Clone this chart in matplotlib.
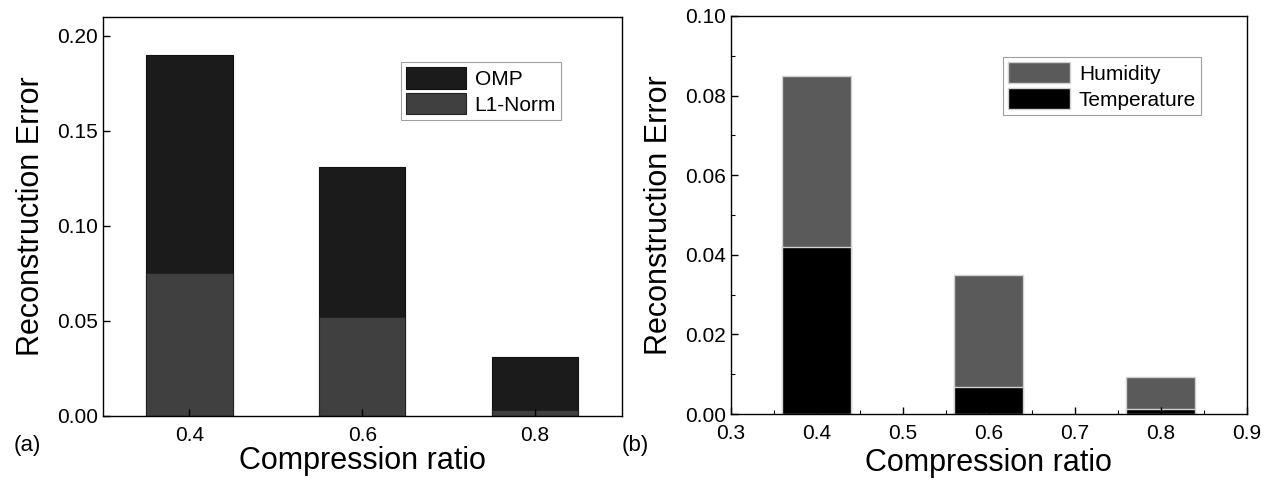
import matplotlib
matplotlib.use("Agg")
import matplotlib.pyplot as plt

plt.rcParams['font.family'] = ['Liberation Sans', 'DejaVu Sans']

# panel (a): OMP vs L1-Norm
ratios_a = [0.4, 0.6, 0.8]
omp = [0.190, 0.131, 0.031]
l1_norm = [0.075, 0.052, 0.003]

# panel (b): humidity vs temperature
ratios_b = [0.4, 0.6, 0.8]
humidity = [0.085, 0.035, 0.0092]
temperature = [0.042, 0.0069, 0.0013]

fig = plt.figure(figsize=(12.71, 4.82), dpi=100)
ax1 = fig.add_axes([0.081, 0.137, 0.408, 0.828])
ax2 = fig.add_axes([0.575, 0.141, 0.406, 0.826])

# (a)
ax1.bar(ratios_a, omp, width=0.1, color='#1b1b1b', edgecolor='#111111', linewidth=0.8, label='OMP')
ax1.bar(ratios_a, l1_norm, width=0.1, color='#404040', edgecolor='#222222', linewidth=0.8, label='L1-Norm')
ax1.set_xlim(0.3, 0.9)
ax1.set_ylim(0, 0.21)
ax1.set_xticks([0.4, 0.6, 0.8])
ax1.set_yticks([0.0, 0.05, 0.10, 0.15, 0.20])
ax1.set_yticklabels(['0.00', '0.05', '0.10', '0.15', '0.20'])
ax1.set_xlabel("Compression ratio", fontsize=22, labelpad=1)
ax1.set_ylabel("Reconstruction Error", fontsize=22, labelpad=8)
leg1 = ax1.legend(loc='upper left', bbox_to_anchor=(0.574, 0.887), fontsize=15,
                  fancybox=False, edgecolor='#888888', handlelength=2.9, handleheight=1.2,
                  handletextpad=0.4, labelspacing=0.2, borderpad=0.25, borderaxespad=0)
leg1.get_frame().set_linewidth(0.8)

# (b)
ax2.bar(ratios_b, humidity, width=0.08, color='#5a5a5a', edgecolor='#d0d0d0', linewidth=1, label='Humidity')
ax2.bar(ratios_b, temperature, width=0.08, color='#000000', edgecolor='#d0d0d0', linewidth=1, label='Temperature')
ax2.set_xlim(0.3, 0.9)
ax2.set_ylim(0, 0.10)
ax2.set_xticks([0.3, 0.4, 0.5, 0.6, 0.7, 0.8, 0.9])
ax2.set_xticks([0.35, 0.45, 0.55, 0.65, 0.75, 0.85], minor=True)
ax2.set_yticks([0.0, 0.02, 0.04, 0.06, 0.08, 0.10])
ax2.set_yticks([0.01, 0.03, 0.05, 0.07, 0.09], minor=True)
ax2.set_yticklabels(['0.00', '0.02', '0.04', '0.06', '0.08', '0.10'])
ax2.set_xlabel("Compression ratio", fontsize=22, labelpad=4)
ax2.set_ylabel("Reconstruction Error", fontsize=22, labelpad=8)
leg2 = ax2.legend(loc='upper left', bbox_to_anchor=(0.527, 0.897), fontsize=15,
                  fancybox=False, edgecolor='#888888', handlelength=3.0, handleheight=1.2,
                  handletextpad=0.4, labelspacing=0.2, borderpad=0.25, borderaxespad=0)
leg2.get_frame().set_linewidth(0.8)

for ax in (ax1, ax2):
    ax.tick_params(axis='both', which='major', direction='in', length=5, width=1, labelsize=15)
    ax.tick_params(axis='x', which='major', pad=7)
    ax.tick_params(axis='both', which='minor', direction='in', length=3, width=0.8)
    for s in ax.spines.values():
        s.set_linewidth(1.0)

fig.text(0.011, 0.065, "(a)", fontsize=16)
fig.text(0.489, 0.065, "(b)", fontsize=16)

fig.savefig("out.png", dpi=100)
